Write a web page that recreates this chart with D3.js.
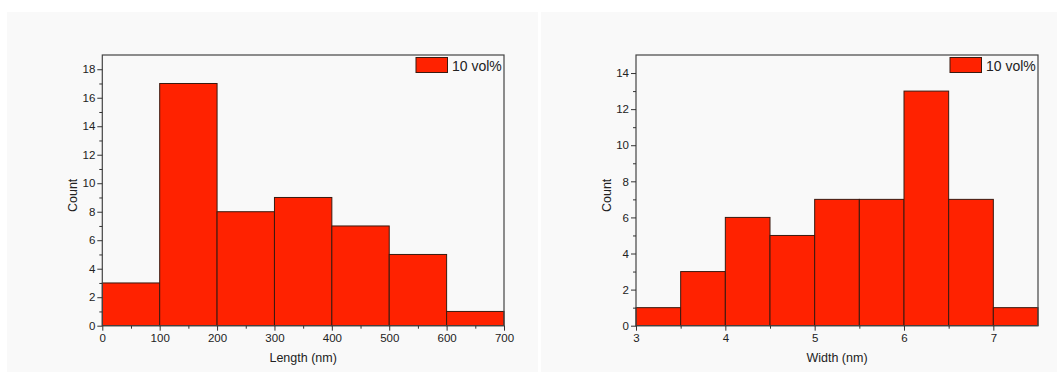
<!DOCTYPE html>
<html>
<head>
<meta charset="utf-8">
<script src="https://cdn.jsdelivr.net/npm/d3@7"></script>
<style>
  html, body { margin: 0; padding: 0; background: #ffffff; }
  svg { display: block; }
  text { font-family: "Liberation Sans", Arial, sans-serif; fill: #222; }
</style>
</head>
<body>
<svg id="chart" width="1060" height="374"></svg>
<script>
// Length histogram (bin edges in nm, counts per bin)
const lengthEdges = [0, 100, 200, 300, 400, 500, 600, 700];
const lengthCounts = [3, 17, 8, 9, 7, 5, 1];
const lengthTicks = [0, 100, 200, 300, 400, 500, 600, 700];
const lengthYTicks = [0, 2, 4, 6, 8, 10, 12, 14, 16, 18];

// Width histogram (bin edges in nm, counts per bin)
const widthEdges = [3, 3.5, 4, 4.5, 5, 5.5, 6, 6.5, 7, 7.5];
const widthCounts = [1, 3, 6, 5, 7, 7, 13, 7, 1];
const widthTicks = [3, 4, 5, 6, 7];
const widthYTicks = [0, 2, 4, 6, 8, 10, 12, 14];

const seriesLabel = "10 vol%";
const barColor = "#ff2200";

const svg = d3.select("#chart");

function histogram(cfg) {
  const g = svg.append("g");
  // panel background
  g.append("rect")
    .attr("x", cfg.panel[0]).attr("y", cfg.panel[1])
    .attr("width", cfg.panel[2]).attr("height", cfg.panel[3])
    .attr("fill", "#f9f9f9");

  const x = d3.scaleLinear().domain(cfg.xDomain).range([cfg.left, cfg.right]);
  const y = d3.scaleLinear().domain(cfg.yDomain).range([cfg.bottom, cfg.top]);

  const bins = cfg.counts.map((c, i) => ({ x0: cfg.edges[i], x1: cfg.edges[i + 1], c }));

  g.selectAll("rect.bar").data(bins).join("rect")
    .attr("class", "bar")
    .attr("x", d => x(d.x0))
    .attr("y", d => y(d.c))
    .attr("width", d => x(d.x1) - x(d.x0))
    .attr("height", d => y(0) - y(d.c))
    .attr("fill", barColor)
    .attr("stroke", "#3a1a10")
    .attr("stroke-width", 1);

  // frame
  g.append("rect")
    .attr("x", cfg.left).attr("y", cfg.top)
    .attr("width", cfg.right - cfg.left).attr("height", cfg.bottom - cfg.top)
    .attr("fill", "none").attr("stroke", "#444").attr("stroke-width", 1.2);

  // x axis: major ticks with labels, minor ticks
  const xAxis = d3.axisBottom(x).tickValues(cfg.xTicks).tickSize(5).tickPadding(3)
    .tickFormat(d3.format("d"));
  const xa = g.append("g").attr("transform", `translate(0,${cfg.bottom})`).call(xAxis);
  xa.select(".domain").remove();
  const xMinor = d3.axisBottom(x).tickValues(cfg.xMinor).tickSize(3).tickFormat("");
  const xm = g.append("g").attr("transform", `translate(0,${cfg.bottom})`).call(xMinor);
  xm.select(".domain").remove();

  // y axis
  const yAxis = d3.axisLeft(y).tickValues(cfg.yTicks).tickSize(5).tickPadding(2);
  const ya = g.append("g").attr("transform", `translate(${cfg.left},0)`).call(yAxis);
  ya.select(".domain").remove();
  const yMinor = d3.axisLeft(y).tickValues(cfg.yMinor).tickSize(3).tickFormat("");
  const ym = g.append("g").attr("transform", `translate(${cfg.left},0)`).call(yMinor);
  ym.select(".domain").remove();

  g.selectAll(".tick line").attr("stroke", "#333");
  g.selectAll(".tick text")
    .attr("font-family", "'Liberation Sans', Arial, sans-serif")
    .attr("font-size", 11.5).attr("fill", "#222");

  // axis titles
  g.append("text")
    .attr("x", (cfg.left + cfg.right) / 2).attr("y", cfg.bottom + 36)
    .attr("text-anchor", "middle").attr("font-size", 12.5)
    .text(cfg.xTitle);
  g.append("text")
    .attr("transform", `translate(${cfg.left - 25},${(cfg.top + cfg.bottom) / 2 + 5}) rotate(-90)`)
    .attr("text-anchor", "middle").attr("font-size", 12.5)
    .text("Count");

  // legend
  const lx = cfg.right - 88;
  g.append("rect")
    .attr("x", lx).attr("y", cfg.top + 2.5)
    .attr("width", 31.5).attr("height", 15)
    .attr("fill", barColor).attr("stroke", "#3a1a10").attr("stroke-width", 1);
  g.append("text")
    .attr("x", lx + 36).attr("y", cfg.top + 15.5)
    .attr("font-size", 14)
    .text(seriesLabel);
}

histogram({
  panel: [7, 12, 531, 360],
  left: 102.3, right: 504, top: 55, bottom: 325.7,
  xDomain: [0, 700], yDomain: [0, 19],
  edges: lengthEdges, counts: lengthCounts,
  xTicks: lengthTicks, xMinor: d3.range(50, 700, 100),
  yTicks: lengthYTicks, yMinor: d3.range(1, 19, 2),
  xTitle: "Length (nm)"
});

histogram({
  panel: [541, 12, 516, 360],
  left: 636, right: 1038, top: 55, bottom: 325.7,
  xDomain: [3, 7.5], yDomain: [0, 15],
  edges: widthEdges, counts: widthCounts,
  xTicks: widthTicks, xMinor: [3.5, 4.5, 5.5, 6.5],
  yTicks: widthYTicks, yMinor: d3.range(1, 15, 2),
  xTitle: "Width (nm)"
});
</script>
</body>
</html>
